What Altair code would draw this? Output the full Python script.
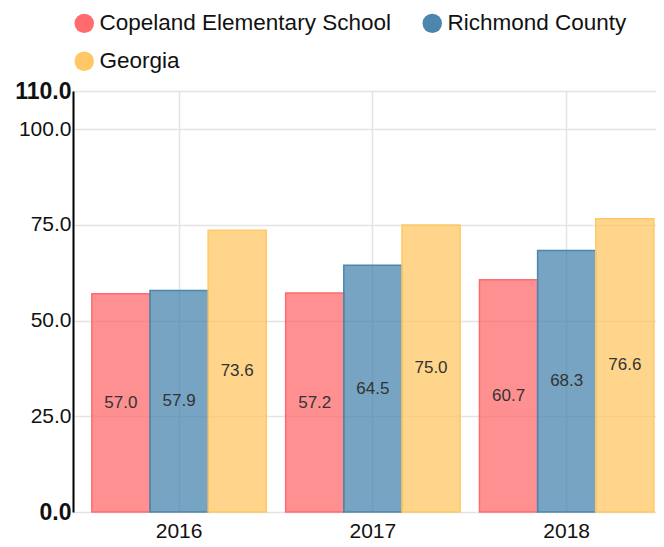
import altair as alt
import pandas as pd

years = ["2016", "2017", "2018"]
series = ["Copeland Elementary School", "Richmond County", "Georgia"]
copeland = [57.0, 57.2, 60.7]
richmond = [57.9, 64.5, 68.3]
georgia = [73.6, 75.0, 76.6]
colors = ["#ff6b6e", "#4a86ad", "#ffc766"]
y_ticks = [0, 25, 50, 75, 100, 110]

rows = []
for i, y in enumerate(years):
    for s, vals in zip(series, [copeland, richmond, georgia]):
        rows.append({"year": y, "series": s, "value": vals[i], "half": vals[i] / 2})
df = pd.DataFrame(rows)

x = alt.X("year:N", title=None,
          scale=alt.Scale(paddingInner=0.1, paddingOuter=0.054, align=0.9),
          axis=alt.Axis(labelAngle=0, labelFontSize=21, labelColor="#111", domain=False,
                        ticks=False, labelPadding=8, grid=True, gridColor="#e4e4e4",
                        gridWidth=1.5, labelFont="Liberation Sans"))
xo = alt.XOffset("series:N", sort=series)

bars = alt.Chart(df).mark_bar(fillOpacity=0.75, strokeWidth=1.5).encode(
    x=x,
    xOffset=xo,
    y=alt.Y("value:Q", title=None,
            scale=alt.Scale(domain=[0, 110], nice=False),
            axis=alt.Axis(values=y_ticks, format=".1f", labelColor="#111",
                          labelFont="Liberation Sans",
                          labelFontSize={"expr": "datum.value == 0 || datum.value == 110 ? 23 : 21"},
                          labelFontWeight={"expr": "datum.value == 0 || datum.value == 110 ? 'bold' : 'normal'"},
                          domainColor="#000", domainWidth=2, ticks=False, labelPadding=2,
                          minExtent=65,
                          grid=True, gridColor="#e4e4e4", gridWidth=1.5)),
    color=alt.Color("series:N", sort=series,
                    scale=alt.Scale(domain=series, range=colors),
                    legend=alt.Legend(title=None, orient="top", columns=2, symbolType="circle",
                                      symbolSize=380, symbolOpacity=1, labelFontSize=22.5,
                                      labelFont="Liberation Sans", labelColor="#111",
                                      labelLimit=1000, labelOffset=4,
                                      rowPadding=15, columnPadding=30, offset=18,
                                      symbolStrokeWidth=0)),
    stroke=alt.Stroke("series:N", sort=series, scale=alt.Scale(domain=series, range=colors),
                      legend=None),
)

labels = alt.Chart(df).mark_text(fontSize=17, color="#333", font="Liberation Sans").encode(
    x=x,
    xOffset=xo,
    y=alt.Y("half:Q"),
    text=alt.Text("value:Q", format=".1f"),
)

chart = alt.layer(bars, labels).properties(
    width=583, height=421, padding={"left": 0, "top": 4, "right": 0, "bottom": 0}
).configure_view(stroke=None).configure_axis(labelFont="Liberation Sans")

chart.save("out.html", embed_options={"renderer": "svg", "actions": False})
